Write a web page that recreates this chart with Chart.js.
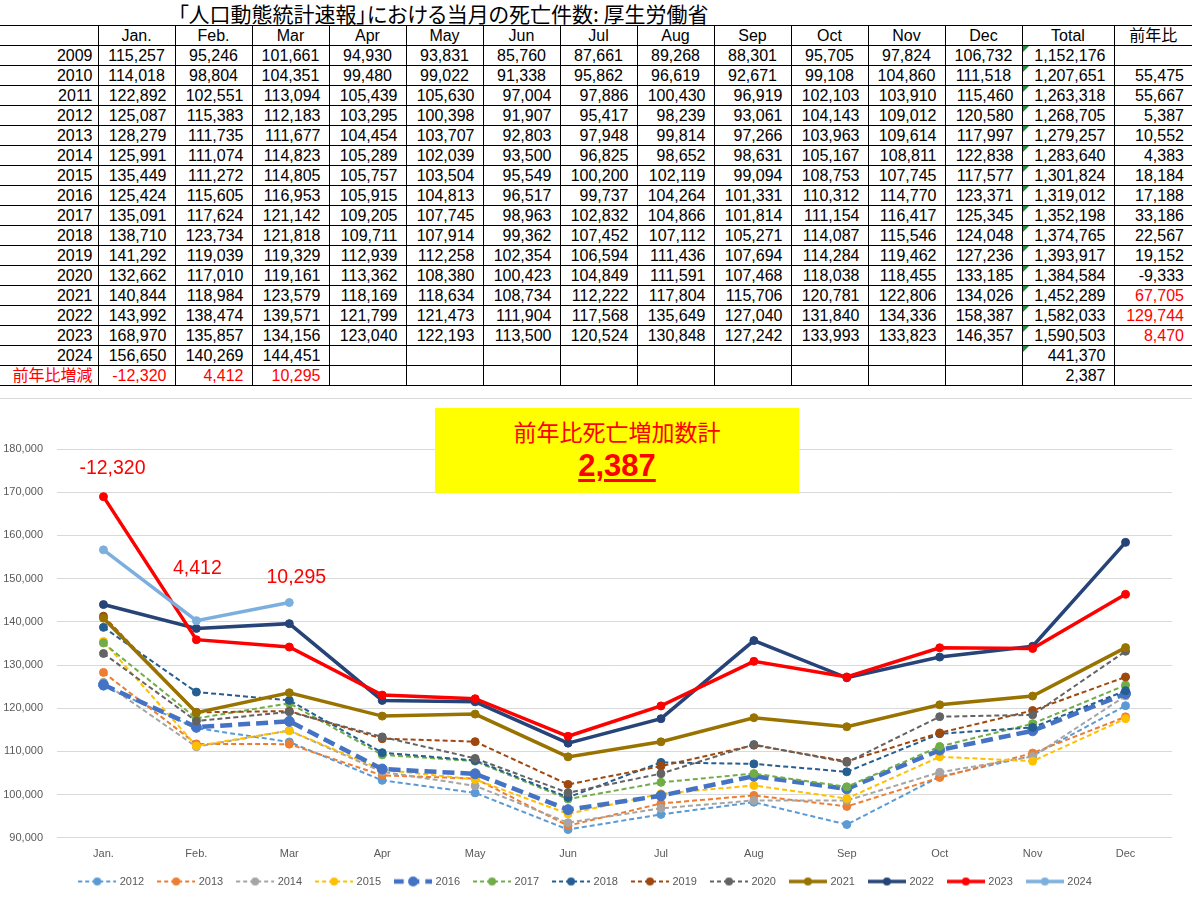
<!DOCTYPE html>
<html>
<head>
<meta charset="utf-8">
<script src="https://cdn.jsdelivr.net/npm/chart.js@4.4.1/dist/chart.umd.min.js"></script>
<style>
    body { margin: 0; width: 1192px; height: 897px; position: relative; overflow: hidden; background: #fff; }
    #title { position: absolute; left: 178px; top: 1px; font: 21px "Noto Sans CJK JP", sans-serif; line-height: 24px; color: #000;
             white-space: nowrap; font-feature-settings: "palt"; }
    #tbl { position: absolute; left: 0; top: 25px; width: 1192px; border-collapse: collapse; table-layout: fixed;
           font: 16px "Liberation Sans", Arial, "Noto Sans CJK JP", sans-serif; color: #000;
           border-left: hidden; border-right: hidden; }
    #tbl td, #tbl th { border: 1px solid #000; padding: 0 8px 0 0; text-align: right; white-space: nowrap; overflow: hidden; line-height: 18px; font-weight: normal; }
    #tbl th { text-align: center; padding: 0; }
    #tbl tr { height: 20px; }
    #tbl td.yr { padding-right: 5px; }
    #tbl tr.mid td.m { text-align: center; padding: 0; }
    #tbl .red { color: #ff0000; }
    #tbl td.flag { position: relative; }
    #tbl td.flag::before { content: ""; position: absolute; left: 0; top: 0; border-top: 6px solid #1e8c3a; border-right: 6px solid transparent; }
    #wrap { position: absolute; left: 0; top: 398px; width: 1192px; height: 499px; border-top: 1px solid #d9d9d9; box-sizing: border-box; }
    #box { position: absolute; left: 435px; top: 408px; width: 364px; height: 85px; background: #ffff00; color: #ff0000; text-align: center; }
    #box .l1 { position: absolute; left: 0; right: 0; top: 6px; line-height: 32px; font: 23px "Noto Sans CJK JP", sans-serif; }
    #box .l2 { position: absolute; left: 0; right: 0; top: 40px; line-height: 32px; font: bold 31px "Liberation Sans", Arial, sans-serif;
               text-decoration: underline; text-decoration-thickness: 3px; text-underline-offset: 3px; }
</style>
</head>
<body>
<div id="title">「人口動態統計速報」における当月の死亡件数: 厚生労働省</div>
<table id="tbl"></table>
<div id="wrap"><canvas id="chart"></canvas></div>
<div id="box"><div class="l1">前年比死亡増加数計</div><div class="l2" id="sum"></div></div>
<script>
// monthly deaths, Jan..Dec
var months = ['Jan.', 'Feb.', 'Mar', 'Apr', 'May', 'Jun', 'Jul', 'Aug', 'Sep', 'Oct', 'Nov', 'Dec'];
var years = [2009, 2010, 2011, 2012, 2013, 2014, 2015, 2016, 2017, 2018, 2019, 2020, 2021, 2022, 2023, 2024];

var y2009 = [115257, 95246, 101661, 94930, 93831, 85760, 87661, 89268, 88301, 95705, 97824, 106732];
var y2010 = [114018, 98804, 104351, 99480, 99022, 91338, 95862, 96619, 92671, 99108, 104860, 111518];
var y2011 = [122892, 102551, 113094, 105439, 105630, 97004, 97886, 100430, 96919, 102103, 103910, 115460];
var y2012 = [125087, 115383, 112183, 103295, 100398, 91907, 95417, 98239, 93061, 104143, 109012, 120580];
var y2013 = [128279, 111735, 111677, 104454, 103707, 92803, 97948, 99814, 97266, 103963, 109614, 117997];
var y2014 = [125991, 111074, 114823, 105289, 102039, 93500, 96825, 98652, 98631, 105167, 108811, 122838];
var y2015 = [135449, 111272, 114805, 105757, 103504, 95549, 100200, 102119, 99094, 108753, 107745, 117577];
var y2016 = [125424, 115605, 116953, 105915, 104813, 96517, 99737, 104264, 101331, 110312, 114770, 123371];
var y2017 = [135091, 117624, 121142, 109205, 107745, 98963, 102832, 104866, 101814, 111154, 116417, 125345];
var y2018 = [138710, 123734, 121818, 109711, 107914, 99362, 107452, 107112, 105271, 114087, 115546, 124048];
var y2019 = [141292, 119039, 119329, 112939, 112258, 102354, 106594, 111436, 107694, 114284, 119462, 127236];
var y2020 = [132662, 117010, 119161, 113362, 108380, 100423, 104849, 111591, 107468, 118038, 118455, 133185];
var y2021 = [140844, 118984, 123579, 118169, 118634, 108734, 112222, 117804, 115706, 120781, 122806, 134026];
var y2022 = [143992, 138474, 139571, 121799, 121473, 111904, 117568, 135649, 127040, 131840, 134336, 158387];
var y2023 = [168970, 135857, 134156, 123040, 122193, 113500, 120524, 130848, 127242, 133993, 133823, 146357];
var y2024 = [156650, 140269, 144451];

var totals = [1152176, 1207651, 1263318, 1268705, 1279257, 1283640, 1301824, 1319012, 1352198, 1374765, 1393917, 1384584, 1452289, 1582033, 1590503, 441370];
var yoy = [null, 55475, 55667, 5387, 10552, 4383, 18184, 17188, 33186, 22567, 19152, -9333, 67705, 129744, 8470, null];

// 2024 vs 2023 by month, and its sum
var diff2024 = [-12320, 4412, 10295];
var diffTotal = 2387;

var rows = [y2009, y2010, y2011, y2012, y2013, y2014, y2015, y2016, y2017, y2018, y2019, y2020, y2021, y2022, y2023, y2024];
var chartYears = [2012, 2013, 2014, 2015, 2016, 2017, 2018, 2019, 2020, 2021, 2022, 2023, 2024];

function fmt(v) {
    return v === null || v === undefined ? '' : v.toLocaleString('en-US');
}

// ---- table ----
function buildTable() {
    var t = document.getElementById('tbl');
    var html = '<colgroup><col style="width:98px">';
    for (var i = 0; i < 12; i++) html += '<col style="width:77px">';
    html += '<col style="width:92px"><col style="width:78px"></colgroup>';

    html += '<thead><tr><th></th>';
    months.forEach(function (m) { html += '<th>' + m + '</th>'; });
    html += '<th>Total</th><th>前年比</th></tr></thead><tbody>';

    var redYoy = [2021, 2022, 2023];
    var centered = [2009, 2010];
    rows.forEach(function (r, k) {
        var yr = years[k];
        html += '<tr' + (centered.indexOf(yr) > -1 ? ' class="mid"' : '') + '><td class="yr">' + yr + '</td>';
        for (var j = 0; j < 12; j++) html += '<td class="m">' + fmt(r[j]) + '</td>';
        html += '<td class="flag">' + fmt(totals[k]) + '</td>';
        html += '<td' + (redYoy.indexOf(yr) > -1 ? ' class="red"' : '') + '>' + fmt(yoy[k]) + '</td></tr>';
    });

    html += '<tr><td class="yr red">前年比増減</td>';
    for (var j = 0; j < 12; j++) html += '<td class="red">' + fmt(diff2024[j]) + '</td>';
    html += '<td>' + fmt(diffTotal) + '</td><td></td></tr></tbody>';
    t.innerHTML = html;
}
buildTable();
document.getElementById('sum').textContent = fmt(diffTotal);

// ---- chart ----
var styles = {
    2012: { color: '#5b9bd5', dash: [5, 3], width: 2, r: 4 },
    2013: { color: '#ed7d31', dash: [5, 3], width: 2, r: 4 },
    2014: { color: '#a5a5a5', dash: [5, 3], width: 2, r: 4 },
    2015: { color: '#ffc000', dash: [5, 3], width: 2, r: 4 },
    2016: { color: '#4472c4', dash: [12, 6], width: 4.5, r: 5 },
    2017: { color: '#70ad47', dash: [5, 3], width: 2, r: 4 },
    2018: { color: '#255e91', dash: [5, 3], width: 2, r: 4 },
    2019: { color: '#9e480e', dash: [5, 3], width: 2, r: 4 },
    2020: { color: '#636363', dash: [5, 3], width: 2, r: 4 },
    2021: { color: '#997300', dash: [], width: 3.5, r: 4 },
    2022: { color: '#264478', dash: [], width: 3.5, r: 4 },
    2023: { color: '#ff0000', dash: [], width: 3.5, r: 4 },
    2024: { color: '#7cafdd', dash: [], width: 3.5, r: 4 }
};

// excel-like legend key: line with a dot in the middle
function legendIcon(s) {
    var c = document.createElement('canvas');
    c.width = 38;
    c.height = 12;
    var g = c.getContext('2d');
    g.strokeStyle = s.color;
    g.lineWidth = s.width;
    g.setLineDash(s.dash.length ? [s.dash[0] * 0.8, s.dash[1]] : []);
    g.beginPath();
    g.moveTo(0, 6);
    g.lineTo(38, 6);
    g.stroke();
    g.fillStyle = s.color;
    g.beginPath();
    g.arc(19, 6, s.r, 0, Math.PI * 2);
    g.fill();
    return c;
}

var icons = [];
var datasets = chartYears.map(function (yr, i) {
    var s = styles[yr];
    icons.push(legendIcon(s));
    return {
        label: String(yr),
        data: rows[years.indexOf(yr)],
        borderColor: s.color,
        backgroundColor: s.color,
        borderWidth: s.width,
        borderDash: s.dash,
        pointRadius: s.r,
        pointBorderWidth: 1,
        pointBackgroundColor: s.color,
        pointBorderColor: s.color,
        tension: 0,
        fill: false,
        order: 100 - i
    };
});

// red month-over-year labels over Jan..Mar
var diffLabels = {
    id: 'diffLabels',
    afterDatasetsDraw: function (chart, args, opts) {
        var ctx = chart.ctx;
        var xs = chart.scales.x, ys = chart.scales.y;
        ctx.save();
        ctx.fillStyle = '#ff0000';
        ctx.font = '19.5px "Liberation Sans", Arial, sans-serif';
        ctx.textAlign = 'center';
        ctx.textBaseline = 'middle';
        diff2024.forEach(function (d, i) {
            var top = Math.max(y2023[i], y2024[i]);
            var off = opts.offsets[i];
            ctx.fillText(fmt(d), xs.getPixelForValue(i) + off[0], ys.getPixelForValue(top) + off[1]);
        });
        ctx.restore();
    }
};

new Chart(document.getElementById('chart'), {
    type: 'line',
    data: { labels: months, datasets: datasets },
    plugins: [diffLabels],
    options: {
        responsive: true,
        maintainAspectRatio: false,
        animation: false,
        layout: { padding: { top: 50, right: 20, left: 0, bottom: 0 } },
        scales: {
            x: {
                offset: true,
                grid: { display: false, drawTicks: false },
                border: { display: false },
                afterFit: function (s) { s.height = s.height - 10; },
                ticks: { color: '#595959', font: { size: 11, family: '"Liberation Sans", Arial' }, padding: 10 }
            },
            y: {
                min: 90000,
                max: 180000,
                grid: { color: '#d9d9d9', lineWidth: 1, drawTicks: false },
                border: { display: false },
                afterFit: function (s) { s.width = 57; },
                ticks: {
                    stepSize: 10000,
                    padding: 14,
                    color: '#595959',
                    font: { size: 11, family: '"Liberation Sans", Arial' },
                    callback: function (v) { return fmt(v); }
                }
            }
        },
        plugins: {
            tooltip: { enabled: false },
            diffLabels: { offsets: [[9, -28], [1, -52], [7, -25]] },
            legend: {
                position: 'bottom',
                labels: {
                    usePointStyle: true,
                    pointStyleWidth: 34,
                    padding: 15,
                    color: '#595959',
                    font: { size: 11, family: '"Liberation Sans", Arial' },
                    sort: function (a, b) { return a.datasetIndex - b.datasetIndex; },
                    generateLabels: function (chart) {
                        var items = Chart.defaults.plugins.legend.labels.generateLabels(chart);
                        items.forEach(function (it) { it.pointStyle = icons[it.datasetIndex]; });
                        return items;
                    }
                }
            }
        }
    }
});
</script>
</body>
</html>
